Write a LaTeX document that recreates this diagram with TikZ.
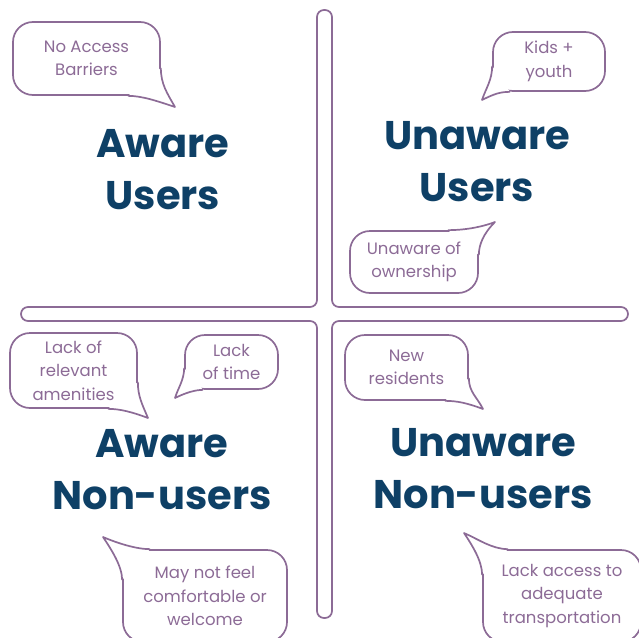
\documentclass[tikz,border=0pt]{standalone}
\usepackage{fontspec}
\setmainfont{Poppins}
\usepackage{tikz}
\usetikzlibrary{positioning,calc}
\definecolor{plum}{HTML}{8C6B96}
\definecolor{navy}{HTML}{0E4066}

\begin{document}
\begin{tikzpicture}[x=1pt, y=-1pt, line width=1.7pt]
        \tikzset{quad/.style={text=navy, font=\fontsize{40}{52}\selectfont\bfseries, align=center},
                 say/.style={draw=plum, rounded corners=20pt, text=plum, align=center, inner sep=0pt,
                             font=\fontsize{16.5}{23.5}\selectfont},
                 tail/.style={draw=plum, fill=white, line join=round}}
        \useasboundingbox (0,0) rectangle (639,637);
        \clip (0,0) rectangle (639,637);

        \draw[plum, rounded corners=7pt] (317,307) -- (317,10) -- (332,10) -- (332,307) -- (628,307) -- (628,321)
            -- (332,321) -- (332,618) -- (317,618) -- (317,321) -- (21,321) -- (21,307) -- cycle;

        \node[quad] (awareusers) at (163,170) {Aware\\Users};
        \node[quad] (unawareusers) at (477,162) {Unaware\\Users};
        \node[quad] (awarenon) at (162,470) {Aware\\Non-users};
        \node[quad] (unawarenon) at (483,469) {Unaware\\Non-users};

        \node[say, minimum width=147, minimum height=73] (noaccess) at (86.5,58.5) {No Access\\Barriers};
        \node[say, minimum width=112, minimum height=59] (kids) at (549,61.5) {Kids +\\youth};
        \node[say, minimum width=128, minimum height=62] (ownership) at (414,262) {Unaware of\\ownership};
        \node[say, minimum width=127, minimum height=75] (amenities) at (73.5,370.5) {Lack of\\relevant\\amenities};
        \node[say, minimum width=93, minimum height=54] (notime) at (231.5,362) {Lack\\of time};
        \node[say, minimum width=164, minimum height=92] (unwelcome) at (205,596) {May not feel\\comfortable or\\welcome};
        \node[say, minimum width=123, minimum height=65] (newres) at (406.5,367.5) {New\\residents};
        \node[say, minimum width=158, minimum height=92] (transport) at (562,596) {Lack access to\\adequate\\transportation};

        \coordinate (noaccess-tip) at (175,107);
        \coordinate (kids-tip) at (482,100);
        \coordinate (ownership-tip) at (495,222);
        \coordinate (amenities-tip) at (148,418);
        \coordinate (notime-tip) at (175,398);
        \coordinate (unwelcome-tip) at (103,537);
        \coordinate (newres-tip) at (483,409);
        \coordinate (transport-tip) at (464,533);

        \draw[tail] ([yshift=-9.5pt]noaccess.east) .. controls +(0,16) and +(-8,-14) .. (noaccess-tip)
            .. controls +(-18,-6) and +(14,0) .. ([xshift=41.5pt]noaccess.south);
        \draw[tail] ([yshift=-4.5pt]kids.west) .. controls +(0,14) and +(4,-12) .. (kids-tip)
            .. controls +(12,-6) and +(-10,0) .. ([xshift=-39pt]kids.south);
        \draw[tail] ([xshift=34pt]ownership.north) .. controls +(14,0) and +(-16,6) .. (ownership-tip)
            .. controls +(-12,12) and +(0,-10) .. ([yshift=7pt]ownership.east);
        \draw[tail] ([yshift=-11.5pt]amenities.east) .. controls +(0,14) and +(-6,-14) .. (amenities-tip)
            .. controls +(-16,-6) and +(12,0) .. ([xshift=34.5pt]amenities.south);
        \draw[tail] ([yshift=-6pt]notime.west) .. controls +(0,12) and +(3,-10) .. (notime-tip)
            .. controls +(10,-5) and +(-8,0) .. ([xshift=-28.5pt]notime.south);
        \draw[tail] ([xshift=-55pt]unwelcome.north) .. controls +(-14,0) and +(14,6) .. (unwelcome-tip)
            .. controls +(8,12) and +(0,-14) .. ([yshift=16pt]unwelcome.west);
        \draw[tail] ([yshift=-10.5pt]newres.east) .. controls +(0,14) and +(-6,-12) .. (newres-tip)
            .. controls +(-16,-6) and +(12,0) .. ([xshift=38.5pt]newres.south);
        \draw[tail] ([xshift=-54pt]transport.north) .. controls +(-16,0) and +(14,6) .. (transport-tip)
            .. controls +(8,12) and +(0,-14) .. ([yshift=21pt]transport.west);
    \end{tikzpicture}
\end{document}
